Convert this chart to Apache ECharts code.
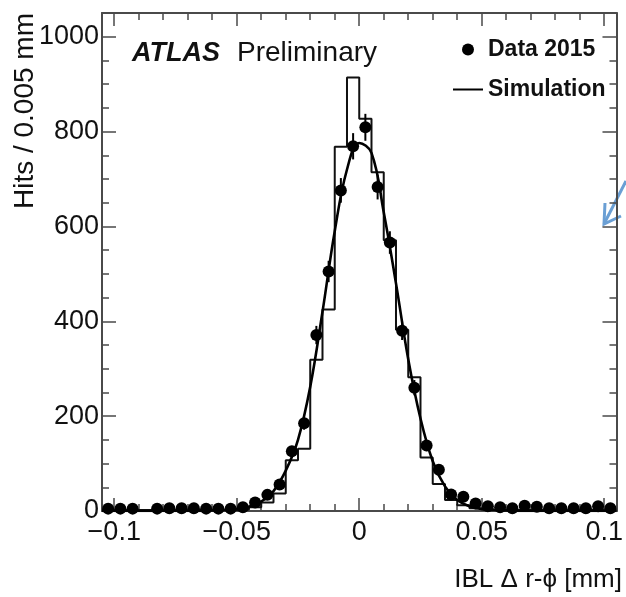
<!DOCTYPE html>
<html>
<head>
<meta charset="utf-8">
<script src="https://cdn.jsdelivr.net/npm/echarts@6/dist/echarts.min.js"></script>
<style>
html,body{margin:0;padding:0;background:#fff;}
#chart{width:626px;height:597px;}
</style>
</head>
<body>
<div id="chart"></div>
<script>
// ---- data ----
const binWidth = 0.005;
const binCenters = [
  -0.1025,-0.0975,-0.0925,-0.0875,-0.0825,-0.0775,-0.0725,-0.0675,-0.0625,-0.0575,-0.0525,
  -0.0475,-0.0425,-0.0375,-0.0325,-0.0275,-0.0225,-0.0175,-0.0125,-0.0075,-0.0025,
  0.0025,0.0075,0.0125,0.0175,0.0225,0.0275,0.0325,0.0375,0.0425,0.0475,
  0.0525,0.0575,0.0625,0.0675,0.0725,0.0775,0.0825,0.0875,0.0925,0.0975,0.1025
];
const dataHits = [
  5,5,5,null,5,6,6,6,5,5,5,
  8,18,34,56,126,185,371,505,676,769,
  809,683,566,380,260,138,87,35,30,16,
  10,8,6,11,9,6,6,6,6,10,6
];
const dataErr = [
  2.2,2.2,2.2,0,2.2,2.4,2.4,2.4,2.2,2.2,2.2,
  2.8,4.2,5.8,7.5,11.2,13.6,19.3,22.5,26,27.7,
  28.4,26.1,23.8,19.5,16.1,11.7,9.3,5.9,5.5,4,
  3.2,2.8,2.4,3.3,3,2.4,2.4,2.4,2.4,3.2,2.4
];
const simHits = [
  2,2,2,2,2,2,2,2,2,2,2,
  3,8,18,37,107,131,319,425,768,914,
  827,714,571,382,282,113,57,23,12,6,
  3,2,2,2,2,2,2,2,2,2,2
];
const fitX = [
  -0.105,-0.1,-0.095,-0.09,-0.085,-0.08,-0.075,-0.07,-0.065,-0.06,-0.055,-0.05,-0.045,-0.04,-0.035,-0.03,-0.025,-0.02,-0.015,-0.01,-0.005,
  0,0.005,0.01,0.015,0.02,0.025,0.03,0.035,0.04,0.045,0.05,0.055,0.06,0.065,0.07,0.075,0.08,0.085,0.09,0.095,0.1,0.105
];
const fitY = [
  0,0,0,0,0,0,0,0,0,1,2,4,9,20,42,85,150,262,420,590,720,
  776,755,630,480,320,195,105,52,23,10,4,2,1,0,0,0,0,0,0,0,0,0
];

const xMajorTicks = [-0.1,-0.05,0,0.05,0.1];
const xMajorLabels = ['\u22120.1','\u22120.05','0','0.05','0.1'];
const xMinorTicks = [-0.09,-0.08,-0.07,-0.06,-0.04,-0.03,-0.02,-0.01,0.01,0.02,0.03,0.04,0.06,0.07,0.08,0.09];
const yMajorTicks = [0,200,400,600,800,1000];
const yMinorTicks = [50,100,150,250,300,350,450,500,550,650,700,750,850,900,950];

const X_MIN = -0.105, X_MAX = 0.105, Y_MIN = 0, Y_MAX = 1050;

// ---- build series data ----
const dataPts = binCenters.map((c,i)=>[c, dataHits[i]]).filter(p=>p[1]!==null);
const errPts = binCenters.map((c,i)=>[c, dataHits[i], dataErr[i]]).filter(p=>p[1]!==null);
const histPts = binCenters.map((c,i)=>[c - binWidth/2, simHits[i]]);
histPts.push([binCenters[binCenters.length-1] + binWidth/2, simHits[simHits.length-1]]);
const fitPts = fitX.map((x,i)=>[x, fitY[i]]);

const FONT = 'Liberation Sans, Arial, Helvetica, sans-serif';
const frameColor = '#4a4a4a';

function xAxisDef(pos, ticks, len, showLabel, showLine){
  return {
    type:'value', position:pos, min:X_MIN, max:X_MAX,
    axisLine:{show:showLine, onZero:false, lineStyle:{color:frameColor, width:2}},
    axisTick:{show:true, inside:true, length:len, customValues:ticks, lineStyle:{color:frameColor, width:1.5}},
    axisLabel:{show:showLabel, customValues:ticks, margin:8, color:'#111', fontSize:27, fontFamily:FONT,
      formatter:function(v){ const k = xMajorTicks.findIndex(t=>Math.abs(t-v)<1e-9); return k>=0 ? xMajorLabels[k] : ''; }},
    splitLine:{show:false}
  };
}
function yAxisDef(pos, ticks, len, showLabel, showLine){
  return {
    type:'value', position:pos, min:Y_MIN, max:Y_MAX,
    axisLine:{show:showLine, onZero:false, lineStyle:{color:frameColor, width:2}},
    axisTick:{show:true, inside:true, length:len, customValues:ticks, lineStyle:{color:frameColor, width:1.5}},
    axisLabel:{show:showLabel, customValues:ticks, margin:3, color:'#111', fontSize:27, fontFamily:FONT,
      formatter:function(v){ return String(Math.round(v)); }},
    splitLine:{show:false}
  };
}

const chart = echarts.init(document.getElementById('chart'), null, {renderer:'canvas'});
chart.setOption({
  animation:false,
  backgroundColor:'#fff',
  grid:{left:102, right:5, top:13, bottom:86, containLabel:false},
  xAxis:[
    xAxisDef('bottom', xMajorTicks, 13, true, true),
    xAxisDef('bottom', xMinorTicks, 7, false, false),
    xAxisDef('top', xMajorTicks, 13, false, true),
    xAxisDef('top', xMinorTicks, 7, false, false)
  ],
  yAxis:[
    yAxisDef('left', yMajorTicks, 14, true, true),
    yAxisDef('left', yMinorTicks, 7, false, false),
    yAxisDef('right', yMajorTicks, 14, false, true),
    yAxisDef('right', yMinorTicks, 7, false, false)
  ],
  legend:{
    orient:'vertical', left:447, top:33, itemWidth:30, itemHeight:12, itemGap:17,
    data:[
      {name:'Data 2015', icon:'circle', itemStyle:{color:'#000', opacity:1}},
      {name:'Simulation', itemStyle:{color:'rgba(0,0,0,0)', borderWidth:0}, lineStyle:{color:'#000', width:2}}
    ],
    textStyle:{fontSize:23, fontWeight:'bold', color:'#111', fontFamily:FONT},
    selectedMode:false
  },
  series:[
    {
      name:'Simulation', type:'line', step:'end', data:histPts, symbol:'none',
      lineStyle:{color:'#111', width:2}, itemStyle:{color:'#111'}, z:2
    },
    {
      name:'fit', type:'line', data:fitPts, smooth:0.4, symbol:'none',
      lineStyle:{color:'#000', width:2.6}, z:3
    },
    {
      name:'err', type:'custom', data:errPts, z:4,
      renderItem:function(params, api){
        const x = api.value(0), y = api.value(1), e = api.value(2);
        const p1 = api.coord([x, y - e]);
        const p2 = api.coord([x, y + e]);
        return {type:'line', shape:{x1:p1[0], y1:p1[1], x2:p2[0], y2:p2[1]}, style:{stroke:'#000', lineWidth:2}};
      }
    },
    {
      name:'Data 2015', type:'scatter', data:dataPts, symbol:'circle', symbolSize:12,
      itemStyle:{color:'#000', opacity:1}, z:5
    }
  ],
  graphic:[
    {type:'text', left:132, top:40, style:{text:'ATLAS', font:'italic bold 27px '+FONT, fill:'#111'}},
    {type:'text', left:237, top:39, style:{text:'Preliminary', font:'28px '+FONT, fill:'#111'}},
    {type:'text', x:25, y:13, rotation:Math.PI/2, style:{text:'Hits / 0.005 mm', font:'28px '+FONT, fill:'#111', align:'right', verticalAlign:'middle'}},
    {type:'text', x:622, y:580, style:{text:'IBL \u0394 r-\u03D5 [mm]', font:'26px '+FONT, fill:'#111', align:'right', verticalAlign:'middle'}},
    {type:'polyline', shape:{points:[[626,181],[604,224]]}, style:{stroke:'#6a9fd4', lineWidth:3, fill:null}},
    {type:'polyline', shape:{points:[[605,203],[604,224],[621,216]]}, style:{stroke:'#6a9fd4', lineWidth:3, fill:null}}
  ]
});
</script>
</body>
</html>
